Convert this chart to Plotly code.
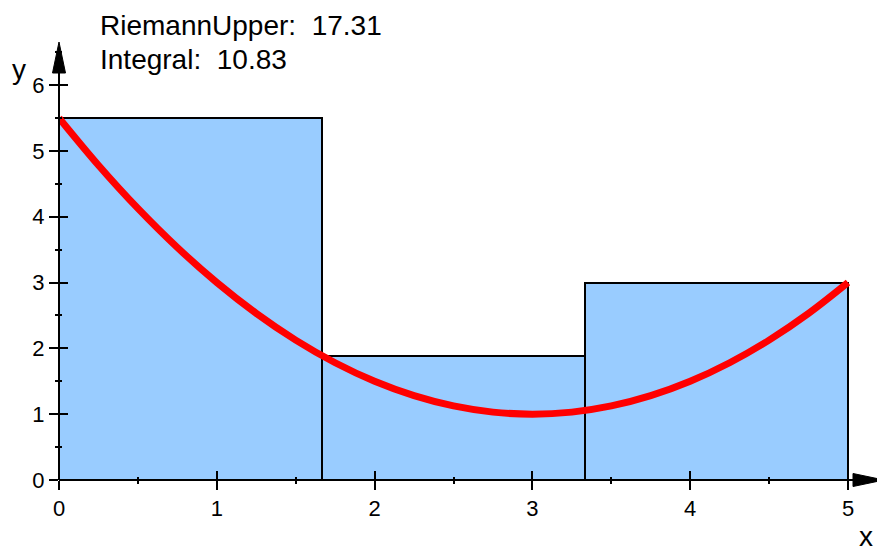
import plotly.graph_objects as go

# Data
bar_left = [0.0, 5/3, 10/3]
bar_width = [5/3, 5/3, 5/3]
bar_height = [5.5, 1.8889, 3.0]

curve_x = [0, 0.25, 0.5, 0.75, 1, 1.25, 1.5, 1.75, 2, 2.25, 2.5, 2.75, 3,
           3.25, 3.5, 3.75, 4, 4.25, 4.5, 4.75, 5]
curve_y = [5.5, 4.78125, 4.125, 3.53125, 3.0, 2.53125, 2.125, 1.78125, 1.5,
           1.28125, 1.125, 1.03125, 1.0, 1.03125, 1.125, 1.28125, 1.5,
           1.78125, 2.125, 2.53125, 3.0]

riemann_upper = "17.31"
integral = "10.83"
x_ticks = [0, 1, 2, 3, 4, 5]
y_ticks = [0, 1, 2, 3, 4, 5, 6]

W, H = 877, 551
L, R, T, B = 59, 0, 45, 71
XR = [0, (W - L - R) / ((848 - 59) / 5)]
YR = [0, (H - T - B) / ((480 - 85) / 6)]

FONT = "Liberation Sans, Arial, sans-serif"

fig = go.Figure()
fig.add_trace(go.Bar(
    x=[l + w / 2 for l, w in zip(bar_left, bar_width)],
    y=bar_height, width=bar_width,
    marker=dict(color="#99ccff", line=dict(color="black", width=2)),
    showlegend=False, hoverinfo="skip"))
fig.add_trace(go.Scatter(
    x=curve_x, y=curve_y, mode="lines",
    line=dict(color="#ff0000", width=7, shape="spline"),
    showlegend=False, hoverinfo="skip"))
# invisible trace to host overlay axes
fig.add_trace(go.Scatter(x=[0], y=[0], xaxis="x2", yaxis="y2", mode="markers",
                         marker=dict(opacity=0), showlegend=False, hoverinfo="skip"))

tickfont = dict(family=FONT, size=22, color="black")
common = dict(showgrid=False, zeroline=False, showline=False, tickcolor="black",
              tickwidth=2, automargin=False)
fig.update_layout(
    width=W, height=H,
    margin=dict(l=L, r=R, t=T, b=B, autoexpand=False),
    plot_bgcolor="white", paper_bgcolor="white",
    bargap=0,
    xaxis=dict(range=XR, tickvals=x_ticks, ticks="outside", ticklen=9,
               tickfont=tickfont, minor=dict(ticks="outside", ticklen=3, dtick=0.5,
                                             tickwidth=2, tickcolor="black"), **common),
    yaxis=dict(range=YR, tickvals=y_ticks, ticks="outside", ticklen=9,
               tickfont=tickfont, minor=dict(ticks="outside", ticklen=3, dtick=0.5,
                                             tickwidth=2, tickcolor="black"), **common),
    xaxis2=dict(range=XR, overlaying="x", anchor="y2", side="bottom", tickvals=x_ticks,
                ticks="inside", ticklen=9, showticklabels=False,
                minor=dict(ticks="inside", ticklen=3, dtick=0.5, tickwidth=2, tickcolor="black"),
                **common),
    yaxis2=dict(range=YR, overlaying="y", anchor="x2", side="left", tickvals=y_ticks,
                ticks="inside", ticklen=9, showticklabels=False,
                minor=dict(ticks="inside", ticklen=3, dtick=0.5, tickwidth=2, tickcolor="black"),
                **common),
)

def pxx(p):
    return (p - L) / (W - L - R)

def pxy(p):
    return (H - B - p) / (H - T - B)

# axis lines with arrowheads (pixel-derived paper coordinates)
ox, oy = 59, 480
fig.add_shape(type="line", xref="paper", yref="paper", x0=pxx(ox), y0=pxy(oy),
              x1=pxx(856), y1=pxy(oy), line=dict(color="black", width=2))
fig.add_shape(type="line", xref="paper", yref="paper", x0=pxx(ox), y0=pxy(oy),
              x1=pxx(ox), y1=pxy(70), line=dict(color="black", width=2))
fig.add_shape(type="path", xref="paper", yref="paper",
              path=f"M {pxx(853)},{pxy(oy - 6.5)} L {pxx(884)},{pxy(oy)} "
                   f"L {pxx(853)},{pxy(oy + 6.5)} Z",
              fillcolor="black", line=dict(color="black", width=1))
fig.add_shape(type="path", xref="paper", yref="paper",
              path=f"M {pxx(ox - 6.5)},{pxy(73)} L {pxx(ox)},{pxy(42)} "
                   f"L {pxx(ox + 6.5)},{pxy(73)} Z",
              fillcolor="black", line=dict(color="black", width=1))

fig.add_annotation(x=pxx(18.5), y=pxy(69), xref="paper", yref="paper", text="y",
                   xanchor="center", yanchor="middle",
                   showarrow=False, font=dict(family=FONT, size=28, color="black"))
fig.add_annotation(x=pxx(866), y=pxy(536), xref="paper", yref="paper", text="x",
                   xanchor="center", yanchor="middle",
                   showarrow=False, font=dict(family=FONT, size=28, color="black"))
fig.add_annotation(x=pxx(98), y=pxy(25), xref="paper", yref="paper", xanchor="left",
                   yanchor="middle",
                   text="RiemannUpper:  " + riemann_upper, showarrow=False,
                   font=dict(family=FONT, size=28, color="black"))
fig.add_annotation(x=pxx(98), y=pxy(60), xref="paper", yref="paper", xanchor="left",
                   yanchor="middle",
                   text="Integral:  " + integral, showarrow=False,
                   font=dict(family=FONT, size=28, color="black"))

fig.write_html("out.html", config={"displayModeBar": False},
               post_script="document.body.style.margin='0';")
